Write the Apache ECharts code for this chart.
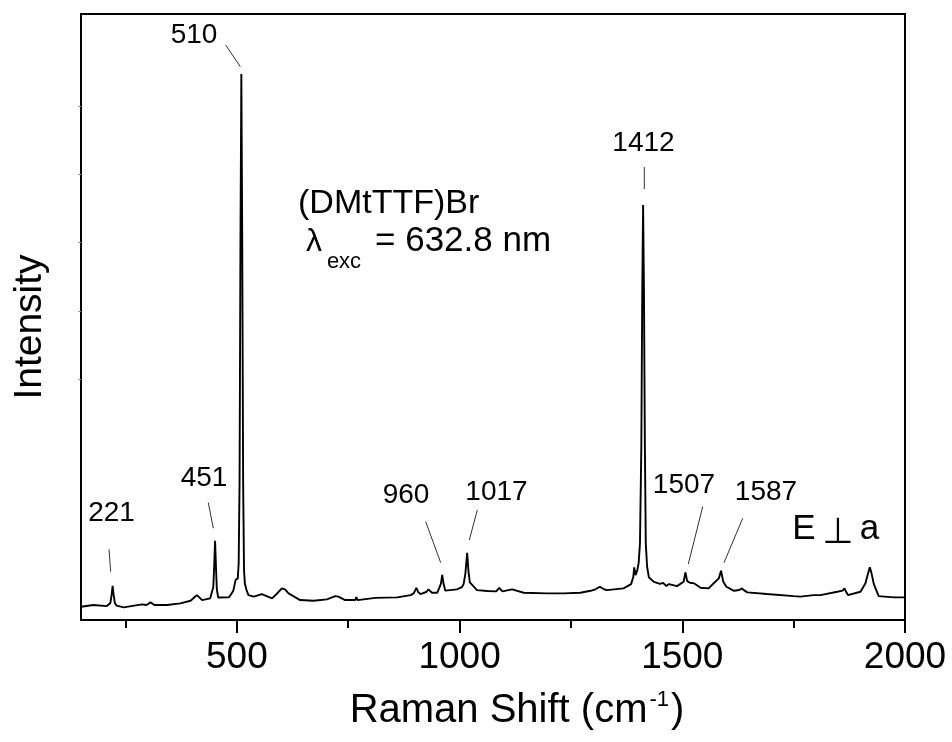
<!DOCTYPE html>
<html>
<head>
<meta charset="utf-8">
<script src="https://cdn.jsdelivr.net/npm/echarts@6/dist/echarts.min.js"></script>
<style>
html, body { margin: 0; padding: 0; background: #fff; }
#chart { width: 952px; height: 742px; }
</style>
</head>
<body>
<div id="chart"></div>
<script>
// Raman spectrum
const shiftCm = [150, 178, 208, 212, 216, 219, 221, 223, 226, 230, 246, 287, 297, 306, 315, 343, 373, 396, 404, 410,
  416, 422, 440, 444, 447, 449, 451, 453, 455, 458, 461, 482, 492, 497, 502, 504, 506, 508, 510, 512,
  514, 516, 518, 522, 526, 538, 556, 579, 592, 601, 608, 616, 642, 672, 702, 721, 728, 743, 766, 768,
  771, 811, 860, 890, 897, 903, 907, 912, 925, 930, 934, 938, 942, 950, 954, 958, 961, 964, 968, 970,
  994, 1005, 1009, 1013, 1017, 1020, 1023, 1026, 1039, 1062, 1082, 1089, 1096, 1099, 1118, 1144, 1196, 1234, 1271, 1294,
  1305, 1315, 1324, 1331, 1368, 1385, 1390, 1392, 1395, 1399, 1402, 1405, 1408, 1410, 1412, 1414, 1416, 1418, 1421, 1425,
  1436, 1450, 1457, 1464, 1470, 1488, 1503, 1507, 1511, 1517, 1527, 1541, 1559, 1574, 1582, 1587, 1592, 1599, 1616, 1628,
  1634, 1640, 1646, 1690, 1750, 1765, 1795, 1810, 1848, 1860, 1864, 1868, 1872, 1900, 1911, 1917, 1921, 1925, 1930, 1941,
  1975, 2000];
const intensity = [66.4, 68.9, 67.4, 69, 72, 85, 97, 85, 72, 68, 65.5, 69.9, 68.9, 72.8, 68.9, 68.9, 71.4, 75.2, 80, 83.5,
  80, 76.2, 78.7, 80, 95, 125, 163, 125, 92, 80, 78.7, 80.1, 90, 105.5, 108, 130, 250, 600, 847, 600,
  250, 120, 100, 90, 83.5, 81.3, 85, 78.7, 87, 93.3, 92, 86, 76.2, 75.2, 77.2, 82, 81.3, 76.2, 76.2, 80.5,
  76.2, 79.4, 80.1, 83.5, 86, 94.2, 88, 85, 88, 91.9, 92, 87, 86.9, 87, 88, 100, 113, 100, 90, 90.8,
  91.9, 95, 99.6, 115, 145.5, 118, 102, 100, 90.8, 89.4, 89, 94.2, 89, 89.4, 91.9, 86.9, 86, 86, 87, 89.8,
  92, 95.7, 92, 90.8, 93.3, 99.6, 110, 124.1, 112.8, 120, 130.4, 160, 300, 520, 655, 520, 300, 160, 125, 109.5,
  103, 100, 101.5, 96.7, 99.6, 96.7, 103, 116.8, 104, 101.5, 100.6, 94.2, 93.3, 103, 108, 119.1, 103, 95.7, 89.8, 91,
  93.3, 90, 87.5, 85, 82, 81.3, 83.5, 83.5, 88.4, 90, 93.3, 88, 83.5, 88.4, 100.6, 115, 124.1, 115, 99.6, 82,
  80.1, 80.1];

const majorTicks = [500, 1000, 1500, 2000];
const minorTicks = [250, 750, 1250, 1750];
const yTicks = [400, 500, 600, 700, 800];

const FONT = '"Liberation Sans", Arial, sans-serif';
const chart = echarts.init(document.getElementById('chart'));

const txt = (text, x, y, size, extra, rot) => ({
  type: 'text',
  x: x,
  y: y,
  rotation: rot || 0,
  silent: true,
  style: Object.assign({
    text: text,
    fontFamily: FONT,
    fontSize: size,
    fill: '#000',
    align: 'center',
    verticalAlign: 'middle'
  }, extra || {})
});
const leader = (x1, y1, x2, y2) => ({
  type: 'line',
  silent: true,
  shape: {x1: x1, y1: y1, x2: x2, y2: y2},
  style: {stroke: '#333', lineWidth: 1}
});

const option = {
  backgroundColor: '#fff',
  animation: false,
  grid: {
    left: 81, right: 47, top: 14, bottom: 122,
    show: true, borderColor: '#000', borderWidth: 2
  },
  xAxis: [{
    type: 'value',
    min: 150,
    max: 2000,
    axisLine: {show: true, lineStyle: {color: '#000', width: 2}},
    axisTick: {show: true, customValues: majorTicks, length: 13, lineStyle: {color: '#000', width: 2}},
    axisLabel: {
      customValues: majorTicks, color: '#000', fontSize: 37, fontFamily: FONT, margin: 19,
      formatter: v => String(v)
    },
    splitLine: {show: false}
  }, {
    type: 'value',
    min: 150,
    max: 2000,
    position: 'bottom',
    axisLine: {show: false},
    axisTick: {show: true, customValues: minorTicks, length: 8, lineStyle: {color: '#000', width: 2}},
    axisLabel: {show: false},
    splitLine: {show: false}
  }],
  yAxis: {
    type: 'value',
    min: 47,
    max: 935,
    axisLine: {show: true, lineStyle: {color: '#000', width: 2}},
    axisTick: {show: true, customValues: yTicks, length: 3, lineStyle: {color: '#999', width: 1}},
    axisLabel: {show: false},
    splitLine: {show: false}
  },
  series: [{
    type: 'line',
    xAxisIndex: 0,
    data: shiftCm.map((x, i) => [x, intensity[i]]),
    showSymbol: false,
    smooth: false,
    lineStyle: {color: '#000', width: 1.9},
    z: 3
  }],
  graphic: [
    // axis titles
    txt('Intensity', 30, 327, 39, {}, Math.PI / 2),
    {
      type: 'text', x: 517, y: 711, silent: true,
      style: {
        text: '{a|Raman Shift (cm}{s|-1}{a|)}',
        align: 'center', verticalAlign: 'middle',
        rich: {
          a: {fontFamily: FONT, fontSize: 40, fill: '#000'},
          s: {fontFamily: FONT, fontSize: 22, fill: '#000', padding: [0, 2, 22, 2]}
        }
      }
    },
    // sample info
    txt('(DMtTTF)Br', 298, 204, 34, {align: 'left'}),
    txt('λ', 314, 242, 32, {}),
    txt('exc', 344, 262, 22, {}),
    txt('= 632.8 nm', 375, 241, 35, {align: 'left'}),
    txt('E', 804, 529, 35, {}),
    txt('⊥', 838, 534, 36, {fontFamily: '"DejaVu Sans", sans-serif'}),
    txt('a', 869.5, 529, 35, {}),
    // peak labels
    txt('510', 194, 35, 28),
    txt('1412', 643.5, 143, 28),
    txt('221', 111.5, 513, 28),
    txt('451', 204, 478, 28),
    txt('960', 406, 495, 28),
    txt('1017', 496.5, 492, 28),
    txt('1507', 684, 485, 28),
    txt('1587', 766, 492, 28),
    // leader lines
    leader(225.7, 45, 240.3, 66.7),
    leader(644.3, 167, 644.3, 189),
    leader(109, 549.3, 110.7, 571.7),
    leader(208.3, 502.7, 213.3, 528.3),
    leader(425.7, 521.7, 440.7, 562.7),
    leader(477.3, 510, 469.3, 540),
    leader(702.7, 506.7, 688.3, 564),
    leader(742.7, 518.3, 724, 562.7)
  ]
};

chart.setOption(option);
window.addEventListener('resize', chart.resize);
</script>
</body>
</html>
